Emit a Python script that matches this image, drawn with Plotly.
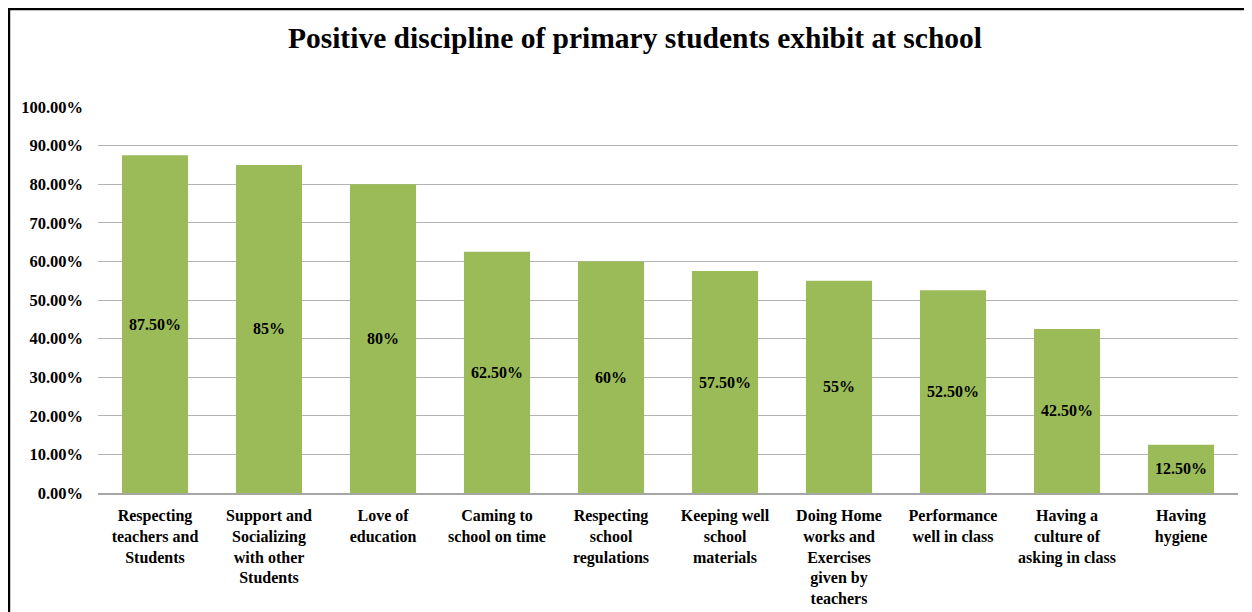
import plotly.graph_objects as go

categories = [
    "Respecting<br>teachers and<br>Students",
    "Support and<br>Socializing<br>with other<br>Students",
    "Love of<br>education",
    "Caming to<br>school on time",
    "Respecting<br>school<br>regulations",
    "Keeping well<br>school<br>materials",
    "Doing Home<br>works and<br>Exercises<br>given by<br>teachers",
    "Performance<br>well in class",
    "Having a<br>culture of<br>asking in class",
    "Having<br>hygiene",
]
values = [0.875, 0.85, 0.80, 0.625, 0.60, 0.575, 0.55, 0.525, 0.425, 0.125]
labels = ["87.50%", "85%", "80%", "62.50%", "60%", "57.50%", "55%", "52.50%", "42.50%", "12.50%"]

FONT = "Liberation Serif"

fig = go.Figure(go.Bar(
    x=categories, y=values, text=labels,
    textposition="inside", insidetextanchor="middle", textangle=0,
    textfont=dict(family=FONT, size=16, color="black", weight="bold"),
    marker=dict(color="#9bbb59", line=dict(width=0)),
    hoverinfo="skip",
))

fig.update_layout(
    width=1244, height=604,
    paper_bgcolor="white", plot_bgcolor="white",
    margin=dict(l=90, r=14, t=99, b=119, autoexpand=False),
    bargap=0.42,
    showlegend=False,
    font=dict(family=FONT, color="black"),
    title=dict(text="<b>Positive discipline of primary students exhibit at school</b>",
               x=0.504, xanchor="center", y=0.951, yanchor="middle",
               font=dict(family=FONT, size=29.5, color="black")),
    uniformtext=dict(minsize=10, mode="show"),
)
fig.update_yaxes(range=[0, 1], dtick=0.1, tickformat=".2%",
                 showgrid=True, gridcolor="#b3b3b3", gridwidth=1,
                 zeroline=False, showline=False, automargin=False,
                 ticks="", ticklabelstandoff=14,
                 tickfont=dict(family=FONT, size=16.5, color="black", weight="bold"))
fig.update_xaxes(showline=True, linecolor="#a6a6a6", linewidth=1.5,
                 ticks="", ticklabelstandoff=7, tickangle=0, automargin=False,
                 tickfont=dict(family=FONT, size=16, color="black", weight="bold"))
fig.add_shape(type="rect", xref="paper", yref="paper",
              x0=-0.0781, x1=1.1, y0=-0.7, y1=1.2539,
              line=dict(color="black", width=2.5), fillcolor="rgba(0,0,0,0)")
fig.write_html("out.html")
